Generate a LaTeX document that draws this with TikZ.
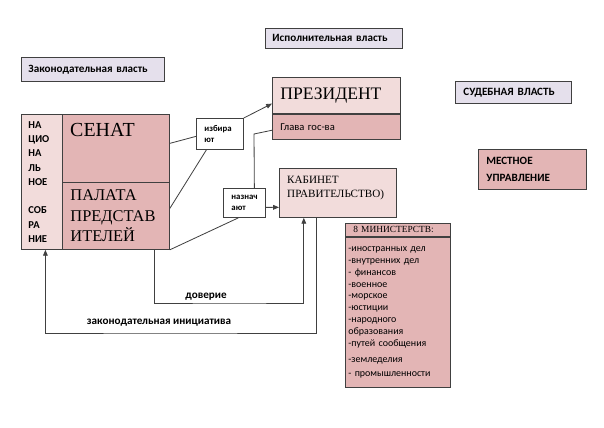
\documentclass[tikz,border=0pt]{standalone}
\usepackage{fontspec}
\setmainfont{Liberation Serif}
\setsansfont{Carlito}
\usetikzlibrary{arrows.meta}
\definecolor{ramka}{HTML}{404040}
\definecolor{sirenev}{HTML}{E5E0EC}
\definecolor{rozov}{HTML}{F2DCDB}
\definecolor{temnroz}{HTML}{E3B5B5}

\begin{document}
\begin{tikzpicture}[x=0.03cm, y=-0.03cm,
    blok/.style={draw=ramka, line width=0.7pt, anchor=north west, inner ysep=0pt, align=left},
    vlast/.style={blok, fill=sirenev, font=\sffamily\bfseries\fontsize{9.5}{11}\selectfont},
    malyj/.style={blok, fill=white, inner xsep=0.24cm, font=\sffamily\bfseries\fontsize{7.5}{9.4}\selectfont},
    svyaz/.style={draw=ramka, line width=0.7pt},
    strel/.style={svyaz, -{Triangle[length=5pt,width=4pt]}},
    podpis/.style={font=\sffamily\bfseries\fontsize{9.5}{11}\selectfont}]
    \useasboundingbox (0,0) rectangle (604,428);

    % ветви власти
    \node[vlast, inner xsep=0.21cm, text width=3.69cm, minimum height=0.6cm] (ispoln) at (265,28) {Исполнительная власть};
    \node[vlast, inner xsep=0.21cm, text width=3.87cm, minimum height=0.72cm] (zakon) at (21,57) {Законодательная власть};
    \node[vlast, inner xsep=0.24cm, text width=3.0cm, minimum height=0.66cm] (sud) at (455,81) {СУДЕБНАЯ ВЛАСТЬ};
    \node[vlast, fill=temnroz, inner xsep=0.24cm, text width=2.76cm, minimum height=1.2cm,
          font=\sffamily\bfseries\fontsize{9.5}{14.5}\selectfont] (mestn) at (478,149) {МЕСТНОЕ\\УПРАВЛЕНИЕ};

    % Национальное собрание
    \node[blok, fill=rozov, inner xsep=0.21cm, text width=1.02cm, minimum height=4.05cm,
          font=\sffamily\bfseries\fontsize{9}{12.2}\selectfont] (ns) at (21,114)
          {НА\\ЦИО\\НА\\ЛЬ\\НОЕ\\[12.2pt]СОБ\\РА\\НИЕ};
    \node[blok, fill=temnroz, minimum width=3.21cm, minimum height=2.04cm] (senat) at (62,114) {};
    \node[anchor=base west, inner sep=0pt, font=\fontsize{17}{20}\selectfont] (senat-t) at (70,137) {СЕНАТ};
    \node[blok, fill=temnroz, inner xsep=0.24cm, text width=2.73cm, minimum height=2.01cm,
          font=\fontsize{14}{17.4}\selectfont] (palata) at (62,182) {ПАЛАТА\\ПРЕДСТАВ\\ИТЕЛЕЙ};

    % президент и кабинет
    \node[blok, fill=rozov, inner xsep=0.24cm, text width=3.36cm, minimum height=1.08cm,
          font=\fontsize{15}{18}\selectfont] (prez) at (272,77) {ПРЕЗИДЕНТ};
    \node[blok, fill=temnroz, inner xsep=0.24cm, text width=3.36cm, minimum height=0.75cm,
          font=\sffamily\fontsize{9}{11}\selectfont] (glava) at (prez.south west) {Глава гос-ва};
    \node[blok, fill=rozov, minimum width=3.51cm, minimum height=1.47cm] (kabinet) at (279,168) {};
    \node[anchor=north west, inner sep=0pt, align=left, font=\fontsize{9.5}{12}\selectfont] (kabinet-t) at (287,176)
          {КАБИНЕТ\\ПРАВИТЕЛЬСТВО)};

    % министерства
    \node[blok, fill=temnroz, inner xsep=0.24cm, text width=2.67cm, minimum height=0.39cm,
          font=\fontsize{8}{9}\selectfont] (minist) at (345,223) {8 МИНИСТЕРСТВ:};
    \node[blok, fill=temnroz, inner xsep=0.09cm, text width=2.97cm, minimum height=4.5cm,
          font=\sffamily\fontsize{8.5}{10.2}\selectfont] (spisok) at (minist.south west)
          {-иностранных дел\\-внутренних дел\\- финансов\\-военное\\-морское\\-юстиции\\-народного\\образования\\-путей сообщения\\[3.5pt]-земледелия\\[1.5pt]- промышленности};

    % избирают, назначают
    \node[malyj, text width=0.93cm, minimum height=0.93cm] (izbir) at (196,118) {избира\\ют};
    \node[malyj, text width=0.78cm, minimum height=0.87cm] (naznach) at (223,188) {назнач\\ают};

    % связи
    \draw[svyaz] ([yshift=4.3pt]senat.east) -- ([yshift=-2.1pt]izbir.west);
    \draw[svyaz] ([yshift=6.4pt]palata.east) -- ([xshift=-11.5pt]izbir.south);
    \draw[strel] (izbir.north east) -- ([yshift=-7pt]prez.west);
    \draw[svyaz] (palata.south east) -- ([xshift=-5.1pt]naznach.south);
    \draw[strel] ([yshift=-3.8pt]naznach.east) -- ([yshift=-12.3pt]kabinet.west);
    \coordinate (lom) at (254,134);
    \draw[svyaz] ([xshift=8.5pt]naznach.north) -- (lom) -- ([yshift=-3pt]glava.west);

    % доверие
    \coordinate (dov) at (230,303);
    \draw[strel] ([xshift=32.7pt]palata.south) |- (dov) -| ([xshift=-29.1pt]kabinet.south);
    \node[podpis] (dov-t) at (206,297) {доверие};

    % законодательная инициатива
    \coordinate (zi) at (160,333);
    \draw[strel] ([xshift=-18.5pt]kabinet.south) |- (zi) -| (ns.south);
    \node[podpis] (zi-t) at (159,323) {законодательная инициатива};
\end{tikzpicture}
\end{document}
